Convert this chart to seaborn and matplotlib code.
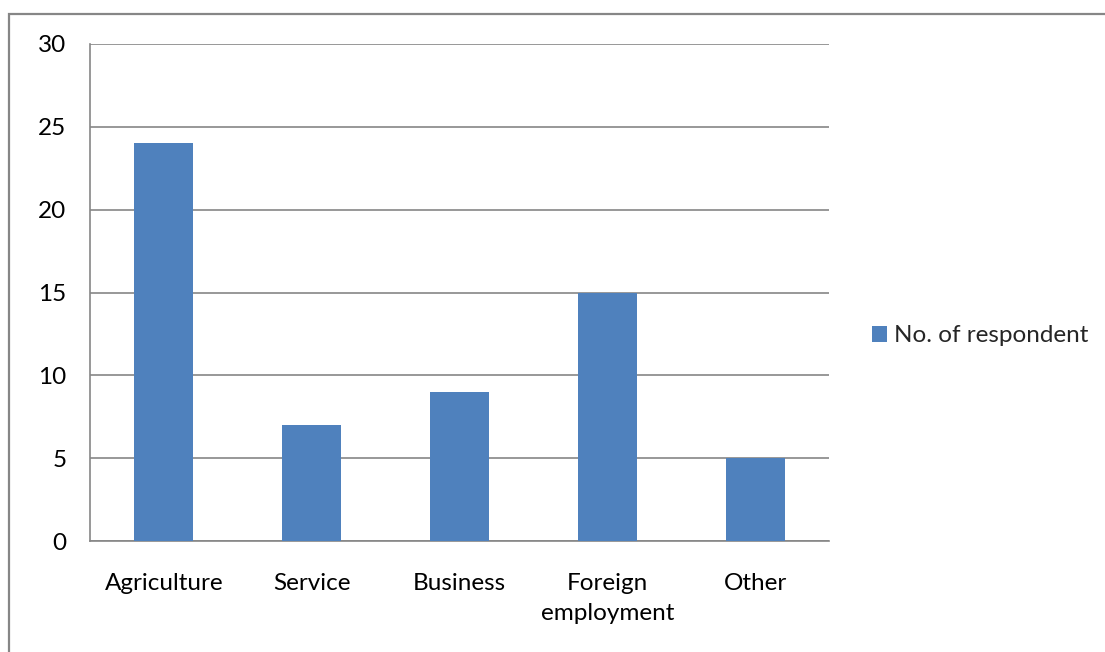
import matplotlib
matplotlib.use("Agg")
import matplotlib.pyplot as plt
from matplotlib.patches import Rectangle, Patch
import seaborn as sns
import pandas as pd

categories = ["Agriculture", "Service", "Business", "Foreign\nemployment", "Other"]
respondents = [24, 7, 9, 15, 5]
series_name = "No. of respondent"
y_ticks = [0, 5, 10, 15, 20, 25, 30]

sns.set_theme(style="white")
plt.rcParams["font.family"] = ["Lato", "DejaVu Sans"]

bar_color = "#4F81BD"
axis_gray = "#868686"
fs = 17.5

df = pd.DataFrame({"category": categories, "value": respondents})

fig = plt.figure(figsize=(11.05, 6.52), dpi=100)
ax = fig.add_axes([90 / 1105, 1 - 541 / 652, 739 / 1105, 497 / 652])

sns.barplot(data=df, x="category", y="value", color=bar_color, width=0.4,
            saturation=1, linewidth=0, edgecolor="none", ax=ax, zorder=3)

ax.set_xlim(-0.5, len(categories) - 0.5)
ax.set_ylim(0, 30)
ax.set_yticks(y_ticks)
ax.set_yticklabels([str(t) for t in y_ticks], fontsize=fs, color="black")
ax.yaxis.grid(True, color=axis_gray, linewidth=1.2, zorder=0)
ax.set_axisbelow(True)

# category labels centred, tick marks at category boundaries
ax.set_xticks(range(len(categories)))
ax.set_xticklabels(categories, fontsize=fs, color="black", linespacing=1.55)
ax.tick_params(axis="x", which="major", length=0, pad=23)
ax.set_xticks([i - 0.5 for i in range(len(categories) + 1)], minor=True)
ax.tick_params(axis="x", which="minor", length=6, width=1.2, color=axis_gray)
ax.tick_params(axis="y", length=8, width=1.2, color=axis_gray, pad=9)

for side in ["top", "right"]:
    ax.spines[side].set_visible(False)
for side in ["left", "bottom"]:
    ax.spines[side].set_color(axis_gray)
    ax.spines[side].set_linewidth(1.2)

ax.set_xlabel("")
ax.set_ylabel("")

handle = Patch(facecolor=bar_color, edgecolor="none")
fig.legend([handle], [series_name], loc="center left",
           bbox_to_anchor=(872 / 1105, 1 - 336 / 652), frameon=False,
           fontsize=fs, handlelength=0.6, handleheight=0.6,
           handletextpad=0.3, borderaxespad=0, borderpad=0)

# chart frame
fig.patches.append(Rectangle((9 / 1105, -0.1), 1.2, 1 - 14 / 652 + 0.1,
                             transform=fig.transFigure, fill=False,
                             edgecolor=axis_gray, linewidth=1.6))

fig.savefig("out.png", dpi=100, facecolor="white")
